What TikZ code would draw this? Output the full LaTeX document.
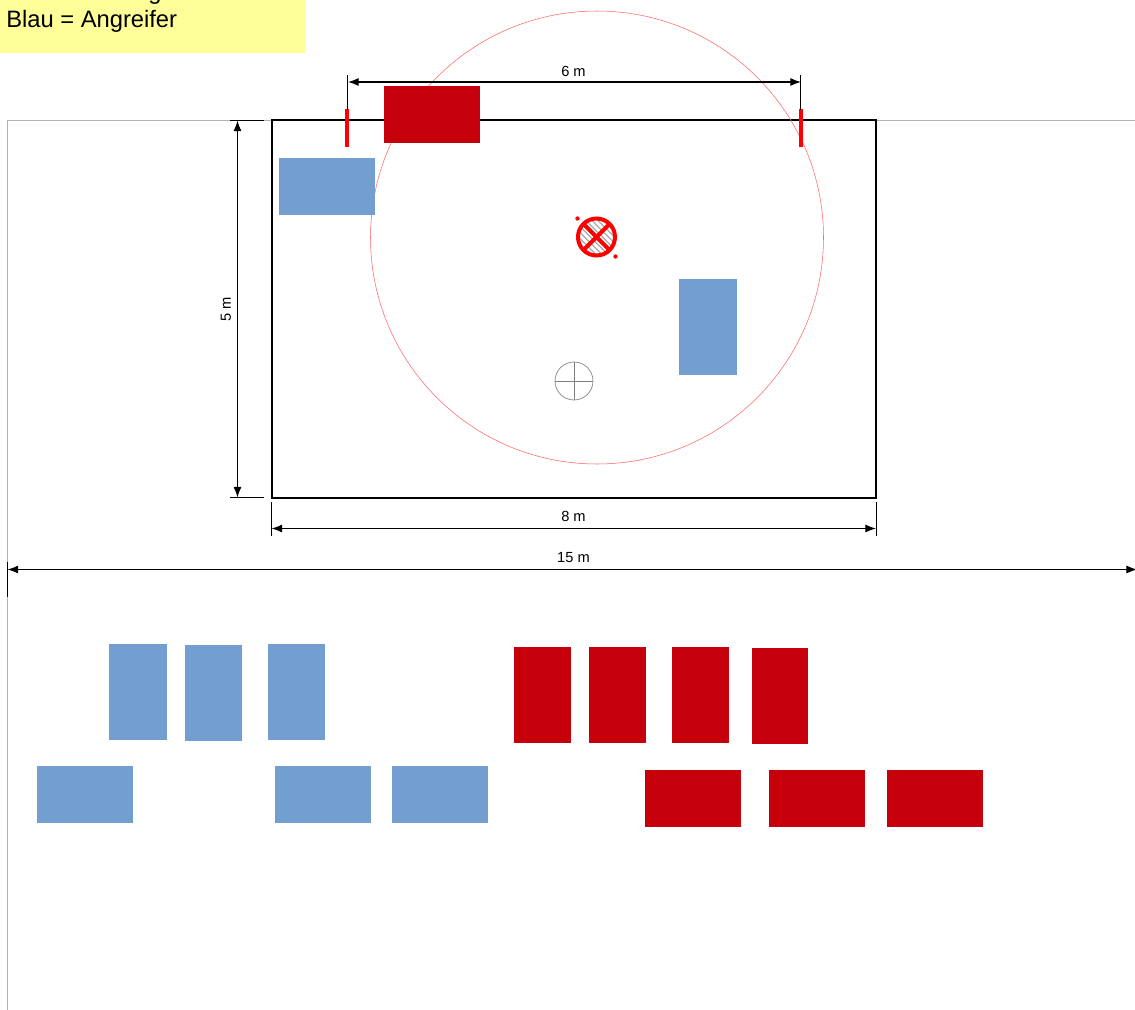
\documentclass[tikz,border=0pt]{standalone}
\usepackage{fontspec}
\setmainfont{Liberation Sans}
\usetikzlibrary{arrows.meta}
\definecolor{bluebox}{HTML}{729FCF}
\definecolor{redbox}{HTML}{C5000B}
\definecolor{note}{HTML}{FFFF99}
\definecolor{frameg}{HTML}{B3B3B3}
\tikzset{
  x=0.75pt,y=-0.75pt,
  attacker/.style={fill=bluebox,draw=none},
  defender/.style={fill=redbox,draw=none},
  dimline/.style={draw=black,line width=0.85pt,{Latex[length=8pt,width=6pt]}-{Latex[length=8pt,width=6pt]}},
  dimtick/.style={draw=black,line width=0.7pt},
  dimtext/.style={font=\fontsize{11pt}{13pt}\selectfont,inner sep=0pt},
  post/.style={fill=red,draw=none},
}
\newcommand{\pxrect}[5]{\path[#1] (#2,#3) rectangle (#4,#5);}
\begin{document}
\begin{tikzpicture}
\useasboundingbox (0,0) rectangle (1135,1010);
\begin{scope}
\clip (0,0) rectangle (1135,1010);
% note
\pxrect{fill=note}{0}{0}{306}{52.5}
\node[anchor=base west,inner sep=0pt,font=\fontsize{17.8pt}{21pt}\selectfont] (notetext) at (6,27) {Blau = Angreifer};
\node[anchor=base west,inner sep=0pt,font=\fontsize{17.8pt}{21pt}\selectfont] (noteclip) at (148,-1) {g};
% frame
\draw[frameg,line width=0.75pt] (7.5,1010) -- (7.5,120.5) -- (1135,120.5);
% court
\draw[black,line width=1.5pt,fill=white] (272,120) rectangle (876,498);
% circle
\node[draw=red!60,line width=0.4pt,circle,minimum size=339.75pt,inner sep=0pt] (arc) at (597,237.5) {};
% players in court
\pxrect{attacker}{279}{158}{375}{215}
\pxrect{attacker}{679}{279}{737}{375}
\pxrect{defender}{384}{86}{480}{143}
% posts
\pxrect{post}{345}{109}{349}{147}
\pxrect{post}{799}{109}{803}{147}
% basket symbol
\begin{scope}
\clip (596.5,237) circle (19);
\foreach \d in {-30,-24,...,30} {
  \draw[gray!65,line width=0.9pt] ({596.5+\d-24},{237-24}) -- ({596.5+\d+24},{237+24});
}
\end{scope}
\draw[red,line width=3pt] (596.5,237) circle (18.5);
\draw[red,line width=3pt] (583.5,224) -- (609.5,250) (609.5,224) -- (583.5,250);
\fill[red] (577.5,218.5) circle (2.2);
\fill[red] (615.5,256.5) circle (2.2);
% target
\node[draw=gray,line width=0.5pt,circle,minimum size=28.5pt,inner sep=0pt] (target) at (574,381) {};
\draw[gray,line width=0.5pt] (target.north) -- (target.south) (target.west) -- (target.east);
% 6 m
\coordinate (a1) at (348,82); \coordinate (a2) at (801,82);
\draw[dimtick] (347.5,75) -- (347.5,110) (800.5,75) -- (800.5,110);
\draw[dimline] (a1) -- (a2);
\node[dimtext] (t6) at (573.5,71.5) {6 m};
% 5 m
\coordinate (b1) at (237.5,120.5); \coordinate (b2) at (237.5,497.5);
\draw[dimtick] (230,120.5) -- (264,120.5) (230,497.5) -- (264,497.5);
\draw[dimline] (b1) -- (b2);
\node[dimtext,rotate=90] (t5) at (226,309) {5 m};
% 8 m
\coordinate (c1) at (271.5,528.5); \coordinate (c2) at (876,528.5);
\draw[dimtick] (271.5,502) -- (271.5,536) (876,502) -- (876,536);
\draw[dimline] (c1) -- (c2);
\node[dimtext] (t8) at (573.5,516.5) {8 m};
% 15 m
\coordinate (d1) at (7.5,569.5); \coordinate (d2) at (1137,569.5);
\draw[dimtick] (7.5,562) -- (7.5,597);
\draw[dimline] (d1) -- (d2);
\node[dimtext] (t15) at (573.5,558) {15 m};
% reserve blue
\pxrect{attacker}{109}{644}{167}{740}
\pxrect{attacker}{185}{645}{242}{741}
\pxrect{attacker}{268}{644}{325}{740}
\pxrect{attacker}{37}{766}{133}{823}
\pxrect{attacker}{275}{766}{371}{823}
\pxrect{attacker}{392}{766}{488}{823}
% reserve red
\pxrect{defender}{513.5}{647}{570.5}{743}
\pxrect{defender}{589}{647}{646}{743}
\pxrect{defender}{672}{647}{729}{743}
\pxrect{defender}{751.5}{648}{808}{744}
\pxrect{defender}{645}{769.5}{741}{827}
\pxrect{defender}{769}{769.5}{865}{827}
\pxrect{defender}{887}{769.5}{983}{827}
\end{scope}
\end{tikzpicture}
\end{document}
